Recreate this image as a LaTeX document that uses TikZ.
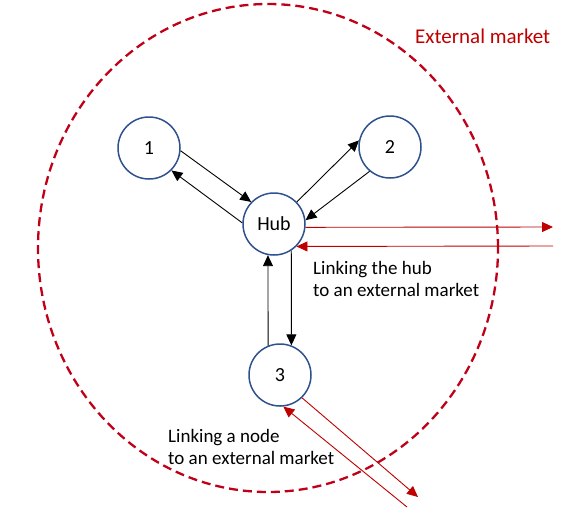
\documentclass[tikz,border=0pt]{standalone}
\usepackage{fontspec}
\setmainfont{Carlito}
\usetikzlibrary{arrows.meta}
\definecolor{nodeblue}{HTML}{2F528F}
\definecolor{mktred}{HTML}{C00000}
\definecolor{dashred}{HTML}{C00018}
\begin{document}
\begin{tikzpicture}[x=1pt,y=-1pt,
  hubnode/.style={circle, draw=nodeblue, line width=1.5pt, fill=white, minimum size=62pt, inner sep=0pt, font=\fontsize{20}{24}\selectfont},
  flow/.style={-{Triangle[length=11pt,width=10pt]}, line width=0.9pt, black},
  extflow/.style={-{Triangle[length=11pt,width=10pt]}, line width=0.9pt, mktred},
  lbl/.style={font=\fontsize{19}{22}\selectfont, align=left, inner sep=0pt, anchor=base west}]
\useasboundingbox (0,0) rectangle (588,515);
\fill[white] (0,0) rectangle (588,515);
\draw[dashred, line width=2.3pt, dash pattern=on 9pt off 5pt] (268,248) ellipse [x radius=230pt, y radius=244pt];

\node[hubnode] (n1) at (149,148) {1};
\node[hubnode] (n2) at (390,147) {2};
\node[hubnode] (hub) at (274,224) {Hub};
\node[hubnode] (n3) at (280,375) {3};

\draw[flow] (n1.-5) -- (hub.136);
\draw[flow] (hub.178) -- (n1.-45);
\draw[flow] (hub.44) -- (n2.168);
\draw[flow] (n2.230) -- (hub.7);
\draw[flow] (hub.-57) -- (n3.69);
\draw[flow] (n3.112) -- (hub.259);

\coordinate (e1) at (553,227);
\coordinate (e2) at (553,246);
\coordinate (e3) at (418,497);
\coordinate (e4) at (407,507);
\draw[extflow] (hub.-6) -- (e1);
\draw[extflow] (e2) -- (hub.-45);
\draw[extflow] (n3.-46) -- (e3);
\draw[extflow] (e4) -- (n3.-84);

\node[font=\fontsize{21}{25}\selectfont, text=mktred, anchor=base west, inner sep=0pt] (ext) at (415,43) {External market};
\node[lbl] (t1) at (313,296) {Linking the hub\\to an external market};
\node[lbl] (t2) at (168,464) {Linking a node\\to an external market};
\end{tikzpicture}
\end{document}
